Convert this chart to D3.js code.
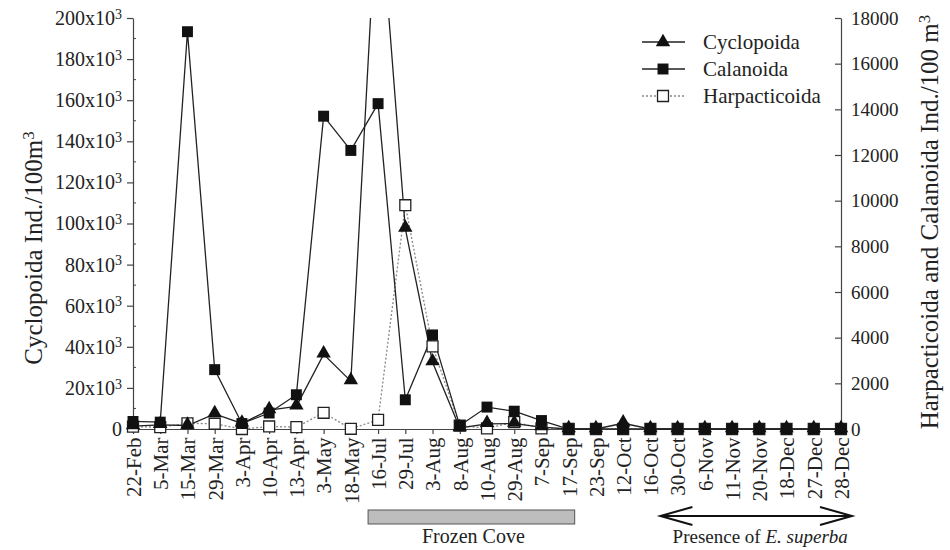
<!DOCTYPE html>
<html>
<head>
<meta charset="utf-8">
<script src="https://cdn.jsdelivr.net/npm/d3@7"></script>
<style>
  body { margin: 0; background: #fff; }
  text { font-family: "Liberation Serif", "Times New Roman", serif; fill: #222; }
</style>
</head>
<body>
<script>
// sampling dates
var dates = ['22-Feb','5-Mar','15-Mar','29-Mar','3-Apr','10-Apr','13-Apr','3-May','18-May','16-Jul','29-Jul','3-Aug','8-Aug','10-Aug','29-Aug','7-Sep','17-Sep','23-Sep','12-Oct','16-Oct','30-Oct','6-Nov','11-Nov','20-Nov','18-Dec','27-Dec','28-Dec'];
// left axis (Ind./100m3)
var cyclopoida = [1400, 2000, 1700, 7300, 2700, 9200, 11000, 36300, 23300, 268000, 97500, 32500, 500, 2500, 2600, 900, 0, 0, 2800, 0, 0, 0, 0, 0, 0, 0, 0];
// right axis (Ind./100 m3)
var calanoida = [330, 300, 17400, 2600, 240, 700, 1500, 13700, 12200, 14250, 1280, 4120, 150, 960, 780, 370, 0, 0, 0, 0, 0, 0, 0, 0, 0, 0, 0];
var harpacticoida = [100, 80, 250, 230, 0, 110, 80, 710, 10, 400, 9800, 3620, 150, 30, 300, 30, 0, 0, 0, 0, 0, 0, 0, 0, 0, 0, 0];
var leftTicks = [0, 20000, 40000, 60000, 80000, 100000, 120000, 140000, 160000, 180000, 200000];
var rightTicks = [0, 2000, 4000, 6000, 8000, 10000, 12000, 14000, 16000, 18000];

var width = 950, height = 550;
var x0 = 133, x1 = 841, yTop = 18, yBot = 429;

var svg = d3.select('body').append('svg')
  .attr('width', width)
  .attr('height', height);

var x = d3.scalePoint().domain(dates).range([x0, x1]);
var yL = d3.scaleLinear().domain([0, 200000]).range([yBot, yTop]);
var yR = d3.scaleLinear().domain([0, 18000]).range([yBot, yTop]);

svg.append('clipPath').attr('id', 'plot')
  .append('rect').attr('x', x0 - 10).attr('y', yTop).attr('width', x1 - x0 + 20).attr('height', yBot - yTop + 10);

// left axis
var gL = svg.append('g').attr('transform', 'translate(' + x0 + ',0)')
  .call(d3.axisLeft(yL).tickValues(leftTicks).tickSize(6).tickSizeOuter(0).tickPadding(5).tickFormat(function(d){ return d; }));
gL.selectAll('text').style('font-size', '20px').each(function(d){
  var t = d3.select(this);
  t.text('');
  if (d === 0) { t.text('0'); return; }
  t.append('tspan').text((d / 1000) + 'x10');
  t.append('tspan').attr('dy', '-0.45em').style('font-size', '14px').text('3');
});
// minor ticks inside
gL.selectAll('.minor').data(d3.range(10000, 200000, 20000)).enter().append('line')
  .attr('x1', 0).attr('x2', 3).attr('y1', function(d){ return yL(d); }).attr('y2', function(d){ return yL(d); })
  .attr('stroke', '#444');

// right axis
var gR = svg.append('g').attr('transform', 'translate(' + x1 + ',0)')
  .call(d3.axisRight(yR).tickValues(rightTicks).tickSize(-6).tickSizeOuter(0).tickPadding(10).tickFormat(d3.format('d')));
gR.selectAll('text').style('font-size', '19px');

// x axis
var gX = svg.append('g').attr('transform', 'translate(0,' + yBot + ')')
  .call(d3.axisBottom(x).tickSize(5).tickSizeOuter(0).tickPadding(8));
gX.selectAll('text')
  .style('font-size', '21px')
  .attr('text-anchor', 'end')
  .attr('dx', '-0.4em')
  .attr('dy', '0.35em')
  .attr('x', 0).attr('y', 0)
  .attr('transform', 'rotate(-90)');

svg.selectAll('.domain, .tick line').attr('stroke', '#444').attr('stroke-width', 1.2);

// lines
var plot = svg.append('g').attr('clip-path', 'url(#plot)');
function lineFor(scale) {
  return d3.line().x(function(d, i){ return x(dates[i]); }).y(function(d){ return scale(d); });
}
plot.append('path').datum(harpacticoida).attr('d', lineFor(yR))
  .attr('fill', 'none').attr('stroke', '#888').attr('stroke-width', 1.3).attr('stroke-dasharray', '2,2');
plot.append('path').datum(cyclopoida).attr('d', lineFor(yL))
  .attr('fill', 'none').attr('stroke', '#222').attr('stroke-width', 1.3);
plot.append('path').datum(calanoida).attr('d', lineFor(yR))
  .attr('fill', 'none').attr('stroke', '#222').attr('stroke-width', 1.3);

var sq = d3.symbol().type(d3.symbolSquare).size(120);
var tri = d3.symbol().type(d3.symbolTriangle).size(90);

plot.selectAll('.harp').data(harpacticoida).enter().append('path')
  .attr('d', sq).attr('transform', function(d, i){ return 'translate(' + x(dates[i]) + ',' + yR(d) + ')'; })
  .attr('fill', '#fff').attr('stroke', '#222').attr('stroke-width', 1.3);
plot.selectAll('.cal').data(calanoida).enter().append('path')
  .attr('d', sq).attr('transform', function(d, i){ return 'translate(' + x(dates[i]) + ',' + yR(d) + ')'; })
  .attr('fill', '#111');
plot.selectAll('.cyc').data(cyclopoida).enter().append('path')
  .attr('d', tri).attr('transform', function(d, i){ return 'translate(' + x(dates[i]) + ',' + (yL(d) - 1) + ')'; })
  .attr('fill', '#111');

// axis titles
var tl = svg.append('text').attr('transform', 'translate(42,' + 248 + ') rotate(-90)')
  .attr('text-anchor', 'middle').style('font-size', '25px');
tl.append('tspan').text('Cyclopoida Ind./100m');
tl.append('tspan').attr('dy', '-0.5em').style('font-size', '17px').text('3');

var tr = svg.append('text').attr('transform', 'translate(938,' + 222 + ') rotate(-90)')
  .attr('text-anchor', 'middle').style('font-size', '25px');
tr.append('tspan').text('Harpacticoida and Calanoida Ind./100 m');
tr.append('tspan').attr('dy', '-0.5em').style('font-size', '17px').text('3');

// legend
var legend = [
  { name: 'Cyclopoida', sym: tri, fill: '#111', dash: null, col: '#222' },
  { name: 'Calanoida', sym: sq, fill: '#111', dash: null, col: '#222' },
  { name: 'Harpacticoida', sym: sq, fill: '#fff', dash: '2,2', col: '#888' }
];
var lg = svg.selectAll('.lg').data(legend).enter().append('g')
  .attr('transform', function(d, i){ return 'translate(642,' + (42 + i * 27) + ')'; });
lg.append('line').attr('x1', 0).attr('x2', 43).attr('stroke', function(d){ return d.col; })
  .attr('stroke-width', 1.3).attr('stroke-dasharray', function(d){ return d.dash; });
lg.append('path').attr('d', function(d){ return d.sym(); }).attr('transform', 'translate(21,0)')
  .attr('fill', function(d){ return d.fill; }).attr('stroke', '#222').attr('stroke-width', function(d){ return d.fill === '#fff' ? 1.3 : 0; });
lg.append('text').attr('x', 61).attr('dy', '0.35em').style('font-size', '21px').text(function(d){ return d.name; });

// frozen cove bar
svg.append('rect').attr('x', x(dates[9]) - 10).attr('y', 510).attr('width', x(dates[16]) - x(dates[9]) + 16).attr('height', 14)
  .attr('fill', '#bdbdbd').attr('stroke', '#555').attr('stroke-width', 1);
svg.append('text').attr('x', (x(dates[9]) + x(dates[16])) / 2).attr('y', 543)
  .attr('text-anchor', 'middle').style('font-size', '20px').text('Frozen Cove');

// presence arrow
var ax0 = x(dates[19]) + 10, ax1 = x(dates[26]) + 11, ay = 516;
svg.append('line').attr('x1', ax0).attr('x2', ax1).attr('y1', ay).attr('y2', ay).attr('stroke', '#111').attr('stroke-width', 2);
svg.append('path').attr('d', 'M' + (ax0 + 32) + ',' + (ay - 9) + 'L' + ax0 + ',' + ay + 'L' + (ax0 + 32) + ',' + (ay + 9))
  .attr('fill', 'none').attr('stroke', '#111').attr('stroke-width', 2);
svg.append('path').attr('d', 'M' + (ax1 - 32) + ',' + (ay - 9) + 'L' + ax1 + ',' + ay + 'L' + (ax1 - 32) + ',' + (ay + 9))
  .attr('fill', 'none').attr('stroke', '#111').attr('stroke-width', 2);
var pt = svg.append('text').attr('x', (ax0 + ax1) / 2 + 4).attr('y', 543).attr('text-anchor', 'middle').style('font-size', '19px');
pt.append('tspan').text('Presence of ');
pt.append('tspan').style('font-style', 'italic').text('E. superba');
</script>
</body>
</html>
